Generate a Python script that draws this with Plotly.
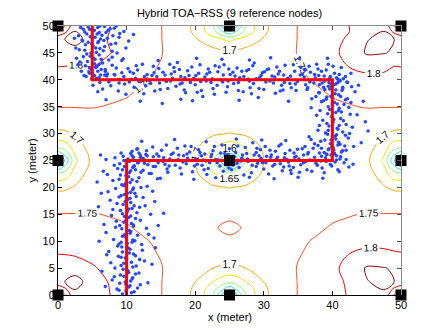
import plotly.graph_objects as go

# reference nodes (anchors)
node_x = [0, 25, 50, 0, 25, 50, 0, 25, 50]
node_y = [0, 0, 0, 25, 25, 25, 50, 50, 50]

# true walking path
path_x = [10, 10, 40, 40, 5, 5]
path_y = [0, 25, 25, 40, 40, 50]

# contour grid (meters) and field values
grid_pts = [0, 1, 2.5, 5, 7.5, 10, 12.5, 15, 17.5, 20, 22.5, 25, 27.5, 30,
            32.5, 35, 37.5, 40, 42.5, 45, 47.5, 49, 50]
contour_z = [
  [1.446,1.746,1.846,1.846,1.801,1.775,1.761,1.751,1.731,1.688,1.616,1.396,1.616,1.688,1.731,1.751,1.761,1.780,1.805,1.846,1.846,1.746,1.446],
  [1.746,1.786,1.850,1.845,1.800,1.775,1.761,1.751,1.732,1.690,1.621,1.506,1.621,1.690,1.732,1.751,1.761,1.782,1.806,1.845,1.850,1.786,1.746],
  [1.846,1.850,1.861,1.836,1.795,1.773,1.760,1.751,1.734,1.701,1.652,1.616,1.652,1.701,1.734,1.751,1.760,1.785,1.808,1.848,1.861,1.850,1.846],
  [1.846,1.845,1.836,1.807,1.783,1.767,1.757,1.751,1.741,1.723,1.701,1.688,1.701,1.723,1.741,1.751,1.757,1.790,1.815,1.855,1.852,1.845,1.846],
  [1.801,1.800,1.795,1.783,1.770,1.761,1.754,1.749,1.745,1.739,1.732,1.728,1.732,1.739,1.745,1.749,1.754,1.780,1.802,1.815,1.812,1.806,1.804],
  [1.775,1.775,1.773,1.767,1.761,1.756,1.751,1.748,1.746,1.745,1.744,1.743,1.744,1.745,1.746,1.748,1.751,1.756,1.775,1.785,1.785,1.783,1.782],
  [1.761,1.761,1.760,1.757,1.754,1.751,1.748,1.747,1.746,1.746,1.746,1.758,1.746,1.746,1.746,1.747,1.748,1.751,1.754,1.757,1.760,1.761,1.761],
  [1.751,1.751,1.751,1.751,1.749,1.748,1.747,1.746,1.746,1.744,1.743,1.742,1.743,1.744,1.746,1.746,1.747,1.748,1.749,1.751,1.751,1.751,1.751],
  [1.731,1.732,1.734,1.741,1.745,1.746,1.746,1.746,1.743,1.739,1.734,1.731,1.734,1.739,1.743,1.746,1.746,1.746,1.745,1.741,1.734,1.732,1.731],
  [1.688,1.690,1.705,1.735,1.739,1.745,1.746,1.744,1.739,1.728,1.710,1.698,1.710,1.728,1.739,1.744,1.746,1.745,1.739,1.735,1.705,1.690,1.688],
  [1.616,1.621,1.670,1.725,1.740,1.744,1.746,1.743,1.734,1.710,1.656,1.616,1.656,1.710,1.734,1.743,1.746,1.744,1.740,1.725,1.670,1.621,1.616],
  [1.396,1.506,1.640,1.712,1.738,1.743,1.746,1.742,1.731,1.698,1.616,1.366,1.616,1.698,1.731,1.742,1.746,1.743,1.738,1.712,1.640,1.506,1.396],
  [1.616,1.621,1.670,1.725,1.740,1.744,1.746,1.743,1.734,1.710,1.656,1.616,1.656,1.710,1.734,1.743,1.746,1.744,1.740,1.725,1.670,1.621,1.616],
  [1.688,1.690,1.705,1.735,1.739,1.745,1.746,1.744,1.739,1.728,1.710,1.698,1.710,1.728,1.739,1.744,1.746,1.745,1.739,1.735,1.705,1.690,1.688],
  [1.731,1.732,1.734,1.741,1.745,1.746,1.746,1.746,1.743,1.739,1.734,1.731,1.734,1.739,1.743,1.746,1.746,1.746,1.745,1.741,1.734,1.732,1.731],
  [1.751,1.751,1.751,1.751,1.749,1.748,1.747,1.746,1.746,1.744,1.743,1.742,1.743,1.744,1.746,1.746,1.747,1.748,1.749,1.751,1.751,1.751,1.751],
  [1.761,1.761,1.760,1.757,1.754,1.751,1.748,1.747,1.746,1.746,1.746,1.746,1.746,1.746,1.746,1.747,1.748,1.751,1.754,1.757,1.760,1.761,1.761],
  [1.775,1.775,1.773,1.767,1.761,1.756,1.751,1.748,1.746,1.745,1.744,1.743,1.744,1.745,1.746,1.748,1.751,1.756,1.775,1.785,1.785,1.783,1.782],
  [1.801,1.800,1.795,1.802,1.780,1.761,1.754,1.749,1.745,1.739,1.740,1.738,1.740,1.739,1.745,1.749,1.754,1.780,1.802,1.815,1.812,1.800,1.801],
  [1.846,1.845,1.836,1.830,1.803,1.775,1.757,1.751,1.741,1.735,1.722,1.712,1.722,1.735,1.741,1.751,1.757,1.790,1.815,1.855,1.852,1.845,1.846],
  [1.846,1.850,1.861,1.836,1.795,1.773,1.760,1.751,1.734,1.705,1.670,1.640,1.670,1.705,1.734,1.751,1.760,1.785,1.808,1.848,1.861,1.850,1.846],
  [1.746,1.786,1.850,1.845,1.800,1.775,1.761,1.751,1.732,1.690,1.621,1.506,1.621,1.690,1.732,1.751,1.761,1.775,1.800,1.845,1.850,1.786,1.746],
  [1.446,1.746,1.846,1.846,1.801,1.775,1.761,1.751,1.731,1.688,1.616,1.396,1.616,1.688,1.731,1.751,1.761,1.775,1.801,1.846,1.846,1.746,1.446],
]

# estimated positions, one list per leg of the path  (x, y)
est_leg1 = [
  (9.4,0.2),(11.1,0.6),(8.6,1.1),(10.3,1.5),(12.0,1.9),(9.8,2.4),(7.9,2.8),(10.9,3.2),(9.1,3.7),(11.8,4.1),
  (10.2,4.5),(8.3,5.0),(11.4,5.4),(9.6,5.9),(12.6,6.3),(10.0,6.7),(8.8,7.2),(11.0,7.6),(7.4,8.1),(10.5,8.5),
  (9.3,8.9),(12.2,9.4),(10.8,9.8),(8.1,10.3),(9.9,10.7),(11.6,11.1),(7.0,11.6),(10.4,12.0),(12.9,12.4),(9.0,12.9),
  (10.7,13.3),(8.5,13.7),(11.3,14.2),(9.7,14.6),(13.5,15.0),(10.1,15.5),(8.0,15.9),(11.9,16.3),(9.5,16.8),(10.6,17.2),
  (7.6,17.6),(12.4,18.1),(9.2,18.5),(11.2,18.9),(10.0,19.4),(8.4,19.8),(13.0,20.2),(9.8,20.7),(11.5,21.1),(8.9,21.5),
  (10.3,22.0),(7.2,22.4),(12.1,22.8),(9.4,23.3),(10.9,23.7),(8.2,24.1),(11.7,24.6),(9.6,25.0),
  (10.7,0.4),(8.9,0.9),(11.6,1.3),(9.9,2.0),(10.6,2.6),(8.2,3.4),(11.3,3.9),(9.5,4.8),(10.9,5.2),(7.7,6.0),
  (11.9,6.6),(9.2,7.0),(10.4,7.8),(12.3,8.3),(8.7,9.1),(10.1,9.6),(11.2,10.1),(9.4,10.9),(13.2,11.3),(10.6,11.8),
  (8.4,12.6),(11.0,13.0),(9.6,13.5),(12.0,13.9),(10.3,14.4),(7.8,14.8),(11.5,15.3),(9.1,15.7),(10.8,16.1),(12.7,16.6),
  (8.6,17.0),(10.2,17.8),(11.4,18.3),(9.7,18.7),(7.3,19.2),(10.9,19.6),(12.1,20.0),(9.3,20.5),(10.5,20.9),(8.0,21.3),
  (11.8,21.8),(9.9,22.2),(13.3,22.6),(10.6,23.1),(8.7,23.5),(11.1,24.0),(9.0,24.4),(10.4,24.8),(12.5,25.3),(8.3,25.5),
  (6.9,1.6),(13.1,2.3),(6.4,4.4),(13.7,5.7),(7.1,7.5),(14.2,8.8),(6.0,10.0),(14.0,10.6),(6.7,13.1),(14.6,12.9),
  (5.9,16.4),(15.4,15.2),(14.1,17.4),(6.3,18.9),(13.8,19.3),(5.7,21.0),(14.5,21.6),(6.6,23.0),(13.9,23.9),(7.0,25.2),
  (12.8,26.1),(9.2,26.4),(10.8,26.7),(11.6,27.2),(6.2,26.0),
  (9.9,0.8),(10.5,1.7),(9.0,2.2),(10.8,3.0),(9.6,3.5),(10.3,4.2),(9.2,5.5),(10.7,6.1),(9.8,6.9),(11.3,7.3),
  (9.4,8.0),(10.2,8.8),(8.9,9.5),(10.9,10.2),(9.7,11.2),(10.5,11.5),(9.3,12.3),(11.0,12.8),(9.9,13.9),(10.6,14.7),
  (9.4,15.1),(10.3,16.0),(11.1,16.6),(9.8,17.4),(10.5,18.0),(8.9,18.2),(10.1,18.9),(11.0,19.9),(9.6,20.3),(10.8,21.4),
  (9.1,22.3),(10.4,22.7),(11.3,23.3),(9.7,23.9),(10.2,25.3),(11.0,25.6),(9.5,25.8),(12.0,26.0),(10.6,19.1),(9.2,9.8),
]
est_leg2 = [
  (10.6,26.3),(11.1,24.0),(11.5,27.1),(12.0,25.6),(12.4,23.2),(12.9,26.8),(13.3,24.9),(13.8,27.5),(14.2,23.9),(14.7,25.8),
  (15.1,26.9),(15.6,24.3),(16.0,22.8),(16.5,26.1),(16.9,25.0),(17.4,27.3),(17.8,23.6),(18.3,25.9),(18.7,24.4),(19.2,26.6),
  (19.6,22.9),(20.1,25.3),(20.5,27.0),(21.0,24.1),(21.4,26.2),(21.9,23.5),(22.3,25.7),(22.8,27.6),(23.2,24.6),(23.7,26.4),
  (24.1,23.0),(24.6,25.9),(25.0,27.2),(25.5,24.2),(25.9,26.5),(26.4,23.7),(26.8,25.4),(27.3,27.4),(27.7,24.8),(28.2,22.7),
  (28.6,26.0),(29.1,24.5),(29.5,27.0),(30.0,23.4),(30.4,25.8),(30.9,26.9),(31.3,24.0),(31.8,25.2),(32.2,27.7),(32.7,23.1),
  (33.1,26.3),(33.6,24.7),(34.0,22.6),(34.5,25.6),(34.9,27.1),(35.4,24.2),(35.8,26.0),(36.3,23.3),(36.7,25.1),(37.2,27.3),
  (37.6,24.5),(38.1,26.4),(38.5,23.6),(39.0,25.5),(39.4,27.0),(39.9,24.0),(40.3,26.2),(40.8,23.3),(41.2,25.7),(41.7,24.6),
  (10.9,25.1),(11.8,26.4),(12.6,24.5),(13.0,25.9),(13.6,22.6),(14.4,26.2),(15.3,24.8),(15.8,27.9),(16.3,25.3),(17.1,24.1),
  (17.6,26.0),(18.0,22.5),(18.9,25.4),(19.4,27.6),(19.9,24.0),(20.7,26.5),(21.2,25.1),(21.7,22.4),(22.1,24.6),(22.6,26.8),
  (23.4,25.1),(23.9,27.9),(24.4,24.4),(24.8,26.1),(25.3,23.3),(25.7,25.7),(26.2,27.7),(26.6,24.9),(27.1,22.3),(27.5,26.3),
  (28.0,25.0),(28.4,28.3),(28.9,23.9),(29.3,25.9),(29.8,24.6),(30.2,27.6),(30.7,22.5),(31.1,26.0),(31.6,24.3),(32.0,25.6),
  (32.5,28.0),(32.9,23.8),(33.4,25.2),(33.8,26.9),(34.3,23.7),(34.7,25.8),(35.2,22.8),(35.6,27.2),(36.1,24.8),(36.5,26.5),
  (37.0,23.0),(37.4,25.6),(37.9,27.8),(38.3,24.9),(38.8,22.7),(39.2,26.1),(39.7,24.3),(40.1,27.4),(40.6,25.1),(41.0,22.9),
  (41.5,26.8),(42.0,25.2),(42.4,23.8),
  (12.2,28.6),(14.9,21.7),(17.0,28.9),(19.8,21.5),(21.6,28.5),(23.0,21.8),(26.0,29.0),(27.9,21.9),(29.7,28.8),(31.5,21.6),
  (33.2,28.7),(35.0,21.9),(36.9,28.9),(38.6,21.7),(43.0,24.3),
  (10.8,25.9),(11.6,24.6),(12.3,25.4),(13.1,24.2),(13.9,25.7),(14.6,24.6),(15.4,25.5),(16.2,24.0),(16.8,26.4),(17.5,25.2),
  (18.2,24.7),(18.8,26.2),(19.5,25.0),(20.3,24.3),(20.9,25.9),(21.6,24.9),(22.4,26.1),(23.0,25.2),(23.6,24.0),(24.3,26.3),
  (26.1,24.5),(26.9,26.0),(27.6,25.3),(28.3,24.1),(28.9,26.5),(29.6,25.4),(30.3,24.6),(31.0,25.6),(31.7,26.7),(32.4,24.4),
  (33.0,25.5),(33.7,24.0),(34.4,26.4),(35.1,25.3),(35.8,24.6),(36.4,26.2),(37.1,25.0),(37.8,24.1),(38.4,25.8),(39.1,24.8),
  (39.8,26.0),(40.4,24.7),(41.1,25.3),(21.3,23.3),(29.0,27.3),(33.9,23.2),(18.5,27.7),(24.9,23.6),(36.0,27.6),(15.9,23.4),
]
est_leg3 = [
  (39.1,26.2),(41.3,26.6),(40.2,27.0),(38.4,27.3),(41.8,27.7),(39.7,28.1),(40.9,28.4),(38.9,28.8),(42.3,29.2),(40.4,29.5),
  (39.3,29.9),(41.5,30.3),(37.9,30.6),(40.7,31.0),(39.5,31.4),(42.0,31.7),(40.1,32.1),(38.6,32.5),(41.2,32.8),(39.9,33.2),
  (42.6,33.6),(40.5,33.9),(38.2,34.3),(41.0,34.7),(39.4,35.0),(41.7,35.4),(40.3,35.8),(38.7,36.1),(42.2,36.5),(39.8,36.9),
  (40.9,37.2),(38.1,37.6),(41.4,38.0),(39.6,38.3),(42.8,38.7),(40.2,39.1),(38.5,39.4),(41.1,39.8),
  (40.6,25.9),(38.8,26.5),(42.0,26.9),(39.9,27.5),(41.1,28.0),(38.3,28.6),(40.5,29.0),(41.9,29.7),(39.0,30.1),(40.8,30.8),
  (42.9,31.2),(39.2,31.9),(41.6,32.4),(40.0,32.9),(37.7,33.4),(41.3,34.0),(39.6,34.5),(42.4,34.9),(40.7,35.5),(38.4,35.9),
  (41.9,36.3),(39.2,36.8),(40.4,37.4),(43.3,37.8),(38.9,38.2),(41.5,38.6),(39.8,39.2),(42.1,39.6),(40.6,40.4),(38.0,40.8),
  (44.2,28.3),(36.6,29.4),(44.8,32.2),(36.9,34.8),(44.5,36.0),(36.4,38.5),(45.2,30.5),(43.6,33.5),
  (40.3,26.4),(39.5,27.2),(40.8,27.9),(39.8,28.8),(40.6,29.8),(39.4,30.6),(41.0,31.5),(40.2,32.6),(39.3,33.7),(40.9,34.3),
  (40.0,35.3),(39.1,36.4),(41.2,36.9),(40.5,38.1),(39.4,38.8),(40.8,39.5),(41.6,40.2),(39.7,40.6),(42.5,30.0),(38.1,31.5),
  (42.7,35.8),(37.6,36.9),(43.1,27.6),(37.4,28.1),(43.8,39.0),
]
est_leg4 = [
  (4.6,41.2),(5.1,39.0),(5.5,42.3),(6.0,40.4),(6.5,38.3),(6.9,41.6),(7.4,39.6),(7.9,42.7),(8.3,40.9),(8.8,37.9),
  (9.3,41.3),(9.7,39.2),(10.2,42.1),(10.7,40.1),(11.1,38.6),(11.6,41.8),(12.1,39.9),(12.5,37.4),(13.0,41.0),(13.5,39.3),
  (13.9,42.5),(14.4,40.6),(14.9,38.2),(15.3,41.4),(15.8,39.7),(16.3,42.9),(16.7,40.3),(17.2,38.8),(17.7,41.9),(18.1,39.4),
  (18.6,37.6),(19.1,40.8),(19.5,42.4),(20.0,39.1),(20.5,41.2),(20.9,38.0),(21.4,40.5),(21.9,42.0),(22.3,39.5),(22.8,37.3),
  (23.3,41.5),(23.7,40.0),(24.2,42.8),(24.7,38.7),(25.1,41.0),(25.6,39.3),(26.1,42.2),(26.5,40.4),(27.0,37.8),(27.5,41.7),
  (27.9,39.8),(28.4,42.6),(28.9,40.2),(29.3,38.4),(29.8,41.3),(30.3,39.6),(30.7,42.0),(31.2,40.7),(31.7,37.5),(32.1,41.1),
  (32.6,39.0),(33.1,42.7),(33.5,40.3),(34.0,38.5),(34.5,41.6),(34.9,39.7),(35.4,42.3),(35.9,40.5),(36.3,38.2),(36.8,41.4),
  (37.3,39.4),(37.7,42.9),(38.2,40.0),(38.7,38.6),(39.1,41.8),(39.6,40.3),(40.1,42.5),(40.5,39.2),(41.0,41.0),(41.5,38.4),
  (41.9,40.6),
  (4.9,40.2),(5.8,37.8),(6.3,41.9),(7.1,40.7),(7.7,38.9),(8.5,42.2),(9.0,40.0),(9.9,37.3),(10.5,41.5),(11.3,40.3),
  (12.3,42.9),(12.8,38.9),(13.7,40.8),(14.1,37.9),(14.7,42.1),(15.5,40.0),(16.0,38.4),(16.5,41.1),(17.4,43.2),(17.9,40.6),
  (18.4,38.1),(18.9,41.7),(19.8,40.3),(20.3,37.7),(20.7,42.8),(21.6,39.8),(22.1,41.4),(22.6,38.4),(23.5,42.4),(24.0,39.6),
  (24.5,37.7),(24.9,42.0),(25.8,40.7),(26.3,38.0),(26.8,41.6),(27.7,40.1),(28.2,37.4),(28.6,43.1),(29.6,40.8),(30.0,38.2),
  (30.5,41.9),(31.4,39.4),(31.9,42.4),(32.4,37.9),(32.9,40.9),(33.8,39.3),(34.3,42.8),(34.7,38.0),(35.6,41.0),(36.1,39.1),
  (36.6,42.5),(37.5,40.4),(38.0,37.6),(38.4,41.6),(38.9,39.8),(39.4,42.9),(39.9,38.7),(40.8,40.1),(41.3,42.3),(42.2,39.5),
  (42.7,41.2),
  (7.0,36.3),(9.5,43.9),(12.0,36.0),(14.6,43.6),(15.2,35.6),(17.9,36.4),(20.2,44.0),(21.1,36.9),(23.9,43.8),(26.4,36.2),
  (27.9,43.7),(29.2,36.7),(31.0,44.1),(33.6,36.0),(35.2,43.9),(37.0,36.5),(39.3,44.0),(19.6,36.1),
  (5.3,40.8),(6.1,39.5),(6.8,40.9),(7.6,39.9),(8.2,41.0),(8.9,39.4),(9.6,40.6),(10.4,39.6),(11.0,41.2),(11.8,39.7),
  (12.6,40.6),(13.3,39.9),(14.0,41.3),(14.8,39.4),(15.6,40.9),(16.4,39.8),(17.0,41.5),(17.8,39.2),(18.5,40.4),(19.3,39.5),
  (20.1,40.8),(20.8,39.7),(21.7,41.1),(22.5,40.2),(23.2,39.0),(24.1,40.9),(24.8,39.8),(25.5,41.4),(26.3,39.5),(27.1,40.6),
  (27.8,41.9),(28.5,39.3),(29.4,40.4),(30.1,41.5),(30.9,39.8),(31.6,40.5),(32.3,41.6),(33.0,39.5),(33.9,40.7),(34.6,39.2),
  (35.3,40.9),(36.0,41.8),(36.7,39.6),(37.4,41.0),(38.1,39.1),(38.8,40.7),(39.5,39.5),(40.3,41.2),(41.1,39.9),(28.0,38.5),
  (16.9,42.3),(22.9,42.6),(32.8,38.1),(11.4,42.6),(37.9,42.0),
]
est_leg5 = [
  (4.1,40.6),(6.2,40.9),(5.0,41.3),(3.4,41.6),(6.9,41.9),(4.6,42.2),(5.7,42.5),(2.9,42.8),(6.5,43.1),(4.3,43.4),
  (7.4,43.7),(5.2,44.0),(3.7,44.3),(6.0,44.6),(4.8,45.0),(7.9,45.3),(3.1,45.6),(5.5,45.9),(6.8,46.2),(4.0,46.5),
  (8.4,46.8),(5.9,47.1),(3.5,47.4),(7.2,47.7),(4.7,48.0),(6.4,48.3),(9.0,48.6),(3.9,48.9),(5.3,49.2),(7.6,49.5),
  (4.4,49.8),(6.1,50.0),
  (5.6,40.3),(3.8,40.8),(7.2,41.1),(4.9,41.9),(6.0,42.9),(3.2,43.3),(5.4,43.8),(7.9,44.2),(4.2,44.8),(6.6,45.4),
  (2.6,45.9),(5.1,46.3),(7.7,46.6),(4.4,47.0),(6.2,47.6),(8.9,47.9),(3.0,48.2),(5.7,48.5),(7.0,48.8),(4.6,49.4),
  (8.2,49.6),(3.3,49.7),(6.8,49.9),(9.6,49.0),(5.0,47.8),(2.7,44.0),(8.6,45.0),(10.3,47.2),(11.0,48.4),(9.3,43.6),
  (5.1,40.7),(4.5,41.5),(5.8,41.6),(4.0,42.6),(5.3,43.0),(6.3,43.8),(4.7,44.4),(5.6,45.1),(3.9,45.5),(6.1,45.8),
  (4.9,46.7),(5.8,46.9),(3.6,47.2),(6.7,47.3),(5.4,47.9),(4.2,48.5),(6.0,48.8),(8.0,48.2),(5.0,49.1),(3.7,49.4),
  (7.3,49.2),(5.8,49.7),(2.4,47.7),(9.9,45.9),(8.5,50.0),
]

est_all = est_leg1 + est_leg2 + est_leg3 + est_leg4 + est_leg5
est_x = [p[0] for p in est_all]
est_y = [p[1] for p in est_all]

FONT = "Liberation Sans, Arial, Helvetica, sans-serif"

# jet-like colours for each contour level 1.40 ... 1.85
jet_lines = [[0.0, '#0000a0'], [0.111, '#0050ff'], [0.222, '#00a8ff'],
             [0.333, '#30e8d0'], [0.444, '#90ff70'], [0.556, '#e8e800'],
             [0.667, '#ffa800'], [0.778, '#ff4a20'], [0.889, '#e80000'],
             [1.0, '#8b0000']]

fig = go.Figure()

fig.add_trace(go.Contour(x=grid_pts, y=grid_pts, z=contour_z,
                         autocontour=False,
                         contours=dict(start=1.4, end=1.85, size=0.05,
                                       coloring='lines', showlabels=True,
                                       labelfont=dict(size=10, color='black', family=FONT)),
                         line=dict(width=1, smoothing=1.0),
                         colorscale=jet_lines, zmin=1.4, zmax=1.85,
                         showscale=False, hoverinfo='skip'))

fig.add_trace(go.Scatter(x=est_x, y=est_y, mode='markers',
                         marker=dict(size=3.5, color='rgb(35,70,255)'),
                         showlegend=False))

fig.add_trace(go.Scatter(x=path_x, y=path_y, mode='lines',
                         line=dict(color='red', width=3),
                         showlegend=False))

fig.add_trace(go.Scatter(x=node_x, y=node_y, mode='markers',
                         marker=dict(symbol='square', size=11, color='black'),
                         cliponaxis=False, showlegend=False))

axis_common = dict(range=[0, 50], ticks='inside', ticklen=4, tickwidth=1,
                   showgrid=False, zeroline=False, showline=True, linewidth=1,
                   tickfont=dict(size=11, color='black', family=FONT))

# the page body adds an 8px margin, so the figure is a little smaller
fig.update_layout(
  width=435, height=325,
  margin=dict(l=50, r=42, t=16, b=38),
  paper_bgcolor='white', plot_bgcolor='white',
  font=dict(family=FONT, size=11, color='black'),
  title=dict(text='Hybrid TOA\u2212RSS (9 reference nodes)', x=0.5, xref='paper',
             y=1 - 5.5 / 325, yref='container', xanchor='center', yanchor='middle',
             font=dict(size=11, color='black', family=FONT)),
  xaxis=dict(axis_common, tickvals=[0, 10, 20, 30, 40, 50], linecolor='black',
             tickcolor='black'),
  yaxis=dict(axis_common, tickvals=list(range(0, 51, 5)), linecolor='black',
             tickcolor='black'),
  # top / right box edges with their own ticks
  xaxis2=dict(axis_common, overlaying='x', side='top', tickvals=[0, 10, 20, 30, 40, 50],
              showticklabels=False, linecolor='#8c8c8c', tickcolor='#555555'),
  yaxis2=dict(axis_common, overlaying='y', side='right', tickvals=list(range(0, 51, 5)),
              showticklabels=False, linecolor='#8c8c8c', tickcolor='#555555'),
  annotations=[
    dict(text='x (meter)', x=0.5, y=-0.081, xref='paper', yref='paper',
         showarrow=False, xanchor='center', yanchor='middle', font=dict(size=11)),
    dict(text='y (meter)', x=-0.076, y=0.5, xref='paper', yref='paper',
         showarrow=False, textangle=-90, xanchor='center', yanchor='middle',
         font=dict(size=11)),
  ],
)

# dummy trace so the top/right axes get drawn
fig.add_trace(go.Scatter(x=[None], y=[None], xaxis='x2', yaxis='y2',
                         showlegend=False, hoverinfo='skip'))

fig.write_html("out.html")
